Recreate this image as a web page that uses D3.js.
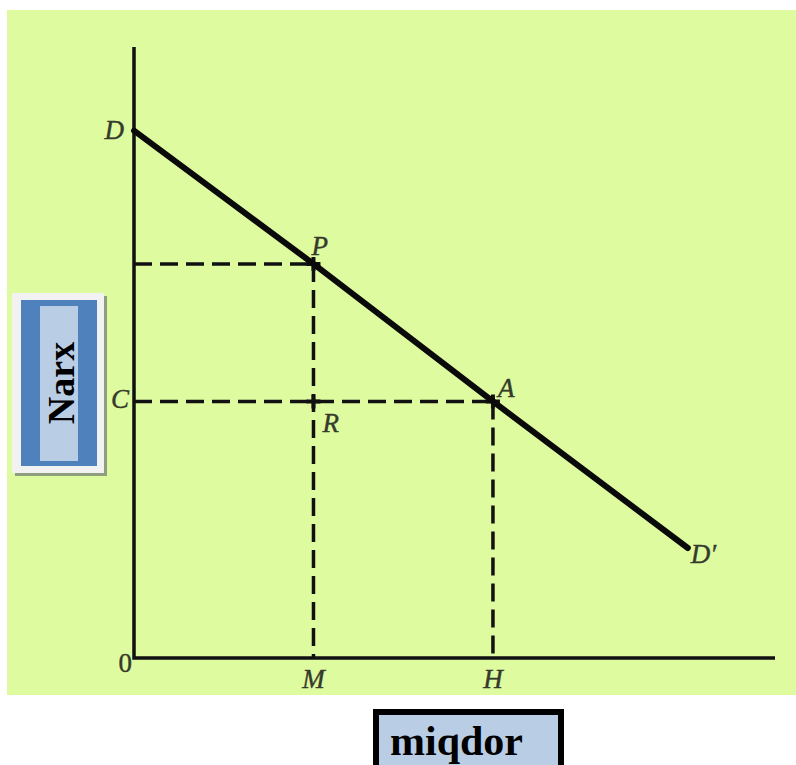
<!DOCTYPE html>
<html>
<head>
    <style>
        body { margin: 0; background: #fff; }
        .lbl {
            font-family: "Liberation Serif", "DejaVu Serif", serif;
            font-style: italic;
            font-size: 27px;
            fill: #343a2c;
            stroke: #343a2c;
            stroke-width: 0.4px;
        }
        .box-text {
            font-family: "Liberation Serif", "DejaVu Serif", serif;
            font-weight: bold;
            fill: #000;
        }
    </style>
    <script src="https://d3js.org/d3.v7.min.js"></script>
</head>
<body>
    <svg width="796" height="765"></svg>
    <script>
        // demand line points (quantity, price)
        var pointNames = ["D", "P", "A", "D′"];
        var quantity = [0, 28, 56, 86.4];
        var price = [86.3, 64.5, 42, 18];

        // marked positions on the axes
        var xMarks = ["M", "H"];
        var xMarkValues = [28, 56];
        var yMarks = ["C"];
        var yMarkValues = [42];

        var yTitle = "Narx";
        var xTitle = "miqdor";

        var svg = d3.select("svg");

        var x = d3.scaleLinear().domain([0, 100]).range([134, 775]);
        var y = d3.scaleLinear().domain([0, 100]).range([658, 47]);

        svg.append("rect")
           .attr("x", 7).attr("y", 10)
           .attr("width", 789).attr("height", 685)
           .attr("fill", "#dffb9f");

        var pts = quantity.map(function(q, i) {
            return { name: pointNames[i], q: q, p: price[i] };
        });
        var P = pts[1], A = pts[2];

        // dashed guides
        var guides = [
            [[0, P.p], [P.q, P.p]],
            [[P.q, P.p], [P.q, 0]],
            [[0, A.p], [A.q, A.p]],
            [[A.q, A.p], [A.q, 0]]
        ];
        var line = d3.line()
                     .x(function(d) { return x(d[0]); })
                     .y(function(d) { return y(d[1]); });

        svg.selectAll(".guide")
           .data(guides)
           .enter().append("path")
           .attr("class", "guide")
           .attr("d", line)
           .attr("fill", "none")
           .attr("stroke", "#111")
           .attr("stroke-width", 3.5)
           .attr("stroke-dasharray", "18,8");

        // little crosses at P, R, A
        var crosses = [[P.q, P.p], [P.q, A.p], [A.q, A.p]];
        crosses.forEach(function(c) {
            svg.append("path")
               .attr("d", "M" + (x(c[0]) - 7) + "," + y(c[1]) + "h14M" + x(c[0]) + "," + (y(c[1]) - 7) + "v14")
               .attr("stroke", "#111")
               .attr("stroke-width", 4);
        });

        // axes
        svg.append("path")
           .attr("d", line([[0, 100], [0, 0], [100, 0]]))
           .attr("fill", "none")
           .attr("stroke", "#111")
           .attr("stroke-width", 3.5);

        // demand line
        svg.append("path")
           .attr("d", line(pts.map(function(d) { return [d.q, d.p]; })))
           .attr("fill", "none")
           .attr("stroke", "#0a0a0a")
           .attr("stroke-width", 6)
           .attr("stroke-linecap", "round");

        // point labels
        var offs = { "D": [-10, 8, "end"], "P": [-2, -9, "start"], "A": [5, -4, "start"], "D′": [3, 15, "start"] };
        svg.selectAll(".pl")
           .data(pts)
           .enter().append("text")
           .attr("class", "lbl")
           .attr("x", function(d) { return x(d.q) + offs[d.name][0]; })
           .attr("y", function(d) { return y(d.p) + offs[d.name][1]; })
           .attr("text-anchor", function(d) { return offs[d.name][2]; })
           .text(function(d) { return d.name; });

        svg.append("text")
           .attr("class", "lbl")
           .attr("x", x(P.q) + 9).attr("y", y(A.p) + 31)
           .text("R");

        svg.selectAll(".xl")
           .data(xMarks)
           .enter().append("text")
           .attr("class", "lbl")
           .attr("x", function(d, i) { return x(xMarkValues[i]); })
           .attr("y", y(0) + 30)
           .attr("text-anchor", "middle")
           .text(function(d) { return d; });

        svg.selectAll(".yl")
           .data(yMarks)
           .enter().append("text")
           .attr("class", "lbl")
           .attr("x", x(0) - 5)
           .attr("y", function(d, i) { return y(yMarkValues[i]) + 7; })
           .attr("text-anchor", "end")
           .text(function(d) { return d; });

        svg.append("text")
           .attr("class", "lbl")
           .attr("x", x(0) - 2).attr("y", y(0) + 14)
           .attr("text-anchor", "end")
           .style("font-style", "normal")
           .text("0");

        // y title box
        svg.append("rect").attr("x", 15).attr("y", 296).attr("width", 92).attr("height", 180).attr("fill", "#8e9f80");
        svg.append("rect").attr("x", 12).attr("y", 293).attr("width", 92).attr("height", 180).attr("fill", "#f2f2f2");
        svg.append("rect").attr("x", 21).attr("y", 300).attr("width", 76).attr("height", 166).attr("fill", "#4f81bd");
        svg.append("rect").attr("x", 40).attr("y", 306).attr("width", 38).attr("height", 155).attr("fill", "#b9cde5");
        svg.append("text")
           .attr("class", "box-text")
           .attr("transform", "translate(74,383) rotate(-90)")
           .attr("text-anchor", "middle")
           .style("font-size", "38px")
           .text(yTitle);

        // x title box
        svg.append("rect")
           .attr("x", 376).attr("y", 712)
           .attr("width", 185).attr("height", 70)
           .attr("fill", "#b9cde5")
           .attr("stroke", "#000")
           .attr("stroke-width", 6);
        svg.append("text")
           .attr("class", "box-text")
           .attr("x", 390).attr("y", 755)
           .style("font-size", "42px")
           .text(xTitle);
    </script>
</body>
</html>
